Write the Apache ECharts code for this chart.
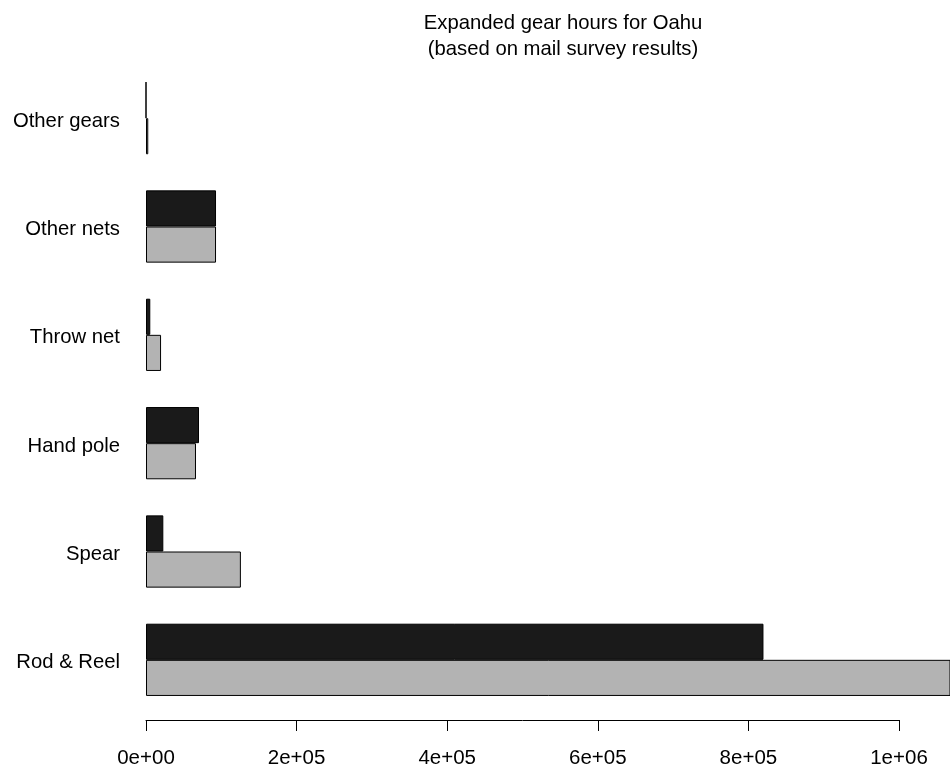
<!DOCTYPE html>
<html>
<head>
<meta charset="utf-8">
<script src="https://cdn.jsdelivr.net/npm/echarts@6/dist/echarts.min.js"></script>
<style>
  html, body { margin: 0; padding: 0; background: #fff; }
  #chart { width: 950px; height: 769px; }
</style>
</head>
<body>
<div id="chart"></div>
<script>
// Gear types, bottom to top
const categories = ['Rod & Reel', 'Spear', 'Hand pole', 'Throw net', 'Other nets', 'Other gears'];
// Expanded gear hours, two survey groups
const darkHours = [820000, 23000, 70400, 5700, 93000, 0];
const grayHours = [1150000, 126000, 66400, 20000, 93000, 3000];
// Axis ticks
const tickValues = [0, 200000, 400000, 600000, 800000, 1000000];

const FONT = '"Liberation Sans", Arial, sans-serif';

function sciLabel(v) {
  const s = Number(v).toExponential(); // e.g. "2e+5"
  const m = s.match(/^(-?[\d.]+)e([+-])(\d+)$/);
  if (!m) return s;
  return m[1] + 'e' + m[2] + (m[3].length < 2 ? '0' + m[3] : m[3]);
}

const PX_PER_UNIT = 753 / 1000000;   // horizontal scale shared by both grids
const plotLeft = 146;
const plotWidth = 950 - plotLeft;     // bar area runs to the right edge
const barMax = plotWidth / PX_PER_UNIT;

const chart = echarts.init(document.getElementById('chart'), null, { renderer: 'canvas' });

chart.setOption({
  animation: false,
  backgroundColor: '#ffffff',
  title: {
    text: 'Expanded gear hours for Oahu\n(based on mail survey results)',
    left: 558,
    top: 5,
    textAlign: 'center',
    textStyle: { fontFamily: FONT, fontSize: 20.3, fontWeight: 'normal', color: '#000', lineHeight: 26 }
  },
  grid: [
    { left: plotLeft, top: 64, height: 650, width: plotWidth, containLabel: false },
    { left: plotLeft, top: 64, height: 650, width: 1000000 * PX_PER_UNIT, containLabel: false }
  ],
  xAxis: [
    { gridIndex: 0, type: 'value', min: 0, max: barMax, show: false },
    {
      gridIndex: 1, type: 'value', min: 0, max: tickValues[tickValues.length - 1], interval: 200000,
      position: 'bottom', offset: 7,
      axisLine: { show: true, lineStyle: { color: '#000', width: 1 } },
      axisTick: { show: true, length: 11, inside: false, lineStyle: { color: '#000', width: 1 } },
      axisLabel: { fontFamily: FONT, fontSize: 20.5, color: '#000', margin: 28, formatter: sciLabel },
      splitLine: { show: false }
    }
  ],
  yAxis: [
    {
      gridIndex: 0, type: 'category', data: categories,
      axisLine: { show: false }, axisTick: { show: false },
      axisLabel: {
        margin: 26,
        formatter: v => '{t|' + v + '}',
        rich: { t: { fontFamily: FONT, fontSize: 20.3, color: '#000', padding: [6, 0, 0, 0] } }
      },
      splitLine: { show: false }
    },
    { gridIndex: 1, type: 'category', data: categories, show: false }
  ],
  series: [
    {
      name: 'dark', type: 'bar', xAxisIndex: 0, yAxisIndex: 0,
      data: darkHours, barGap: '0%', barCategoryGap: '33.3%', clip: true,
      itemStyle: { color: '#1a1a1a', borderColor: '#000', borderWidth: 1 }
    },
    {
      name: 'gray', type: 'bar', xAxisIndex: 0, yAxisIndex: 0,
      data: grayHours, barGap: '0%', barCategoryGap: '33.3%', clip: true,
      itemStyle: { color: '#b3b3b3', borderColor: '#000', borderWidth: 1 }
    }
  ]
});
</script>
</body>
</html>
